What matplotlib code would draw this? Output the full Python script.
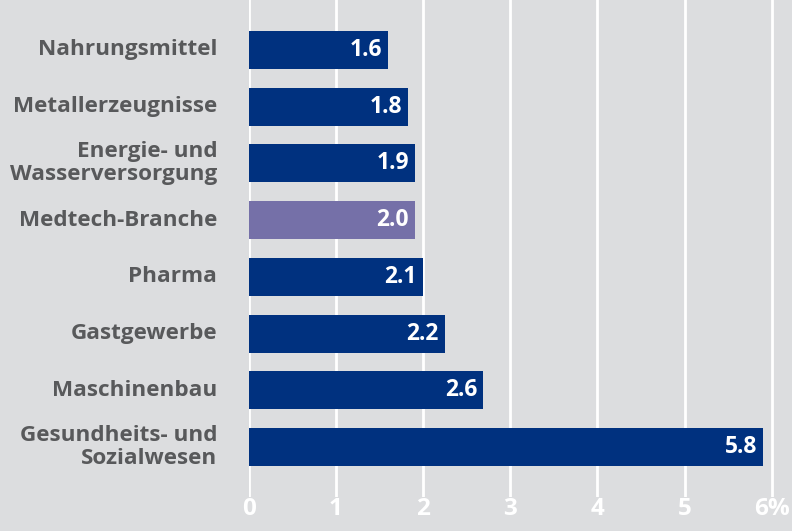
import matplotlib.pyplot as plt
import numpy as np

# data
categories = ['Nahrungsmittel', 'Metallerzeugnisse', 'Energie- und\nWasserversorgung',
              'Medtech-Branche', 'Pharma', 'Gastgewerbe', 'Maschinenbau',
              'Gesundheits- und\nSozialwesen']
bar_values = [1.60, 1.83, 1.91, 1.91, 2.00, 2.25, 2.69, 5.90]
bar_labels = ['1.6', '1.8', '1.9', '2.0', '2.1', '2.2', '2.6', '5.8']
highlight = 'Medtech-Branche'
xticks = [0, 1, 2, 3, 4, 5, 6]
xticklabels = ['0', '1', '2', '3', '4', '5', '6%']

bg = '#dcdddf'
blue = '#00317f'
purple = '#7570a8'
grey_text = '#58595b'

plt.rcParams['font.family'] = ['Open Sans', 'DejaVu Sans']

fig = plt.figure(figsize=(7.92, 5.31), dpi=100)
fig.patch.set_facecolor(bg)
ax = fig.add_axes([248.6 / 792, 34 / 531, 1 - 248.6 / 792, 497 / 531])
ax.set_facecolor(bg)

y = np.arange(len(categories))
colors = [purple if c == highlight else blue for c in categories]
ax.barh(y, bar_values, height=0.67, color=colors, zorder=3)

# value labels inside bar ends
for yi, v, lab in zip(y, bar_values, bar_labels):
    ax.text(v - 0.07, yi, lab, ha='right', va='center', color='white',
            fontsize=16.5, fontweight='bold', zorder=4)

# category labels on the left
for yi, c in zip(y, categories):
    ax.text(-0.36, yi, c, ha='right', va='center', color=grey_text,
            fontsize=16.2, fontweight='bold', linespacing=1.12,
            transform=ax.transData, clip_on=False)

ax.set_xlim(0, 543.4 / 87.2)
ax.set_ylim(7.88, -0.88)
ax.set_yticks([])
ax.set_xticks(xticks)
# slightly smaller than the reference so the labels stay inside the image
ax.set_xticklabels(xticklabels, color='white', fontsize=17.5, fontweight='bold')
ax.tick_params(axis='x', length=0, pad=0)
ax.grid(axis='x', color='white', linewidth=2, zorder=0)
for s in ax.spines.values():
    s.set_visible(False)

fig.savefig('out.png', dpi=100, facecolor=bg)
